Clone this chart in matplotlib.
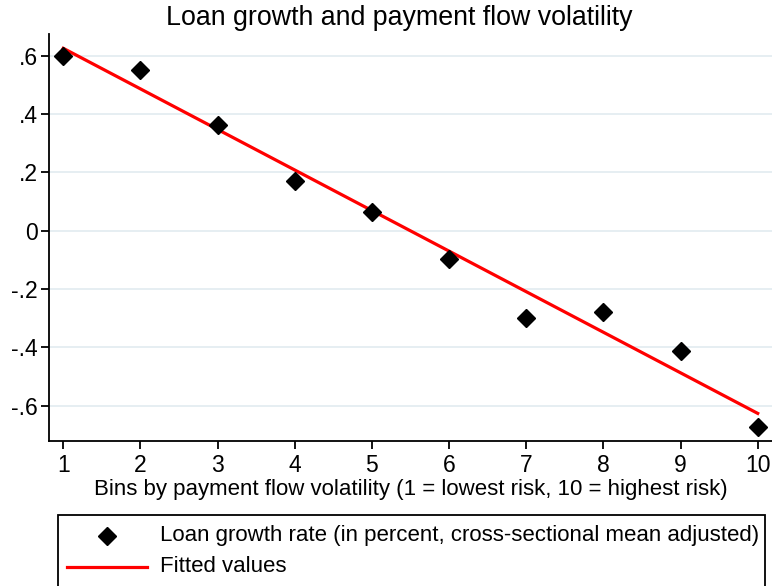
import numpy as np
import matplotlib
matplotlib.use("Agg")
import matplotlib.pyplot as plt
from matplotlib.patches import Rectangle
from matplotlib.lines import Line2D

plt.rcParams["font.family"] = ["Liberation Sans", "DejaVu Sans"]

# Binned scatter: loan growth by payment flow volatility decile
bins = np.arange(1, 11)
loan_growth = [0.60, 0.549, 0.363, 0.171, 0.065, -0.096, -0.298, -0.278, -0.411, -0.672]

yticks = [-0.6, -0.4, -0.2, 0.0, 0.2, 0.4, 0.6]
ytick_labels = ["-.6", "-.4", "-.2", "0", ".2", ".4", ".6"]

legend_labels = ["Loan growth rate (in percent, cross-sectional mean adjusted)", "Fitted values"]

# OLS fitted line (Stata lfit)
slope, intercept = np.polyfit(bins, loan_growth, 1)
fitted = slope * bins + intercept

W, H = 772, 586
fig = plt.figure(figsize=(W / 100, H / 100), dpi=100)
ax = fig.add_axes([49 / W, (H - 441) / H, (W - 49) / W, (441 - 34) / H])

grid_col = "#e4edf1"
for yv in yticks:
    ax.axhline(yv, color=grid_col, lw=1.3, zorder=0)

ax.plot(bins, fitted, color="#ff0000", lw=2.3, zorder=2)
ax.plot(bins, loan_growth, "D", color="black", ms=9, zorder=3)

ax.set_xlim(0.815, 10.185)
ax.set_ylim(-0.721, 0.674)
ax.set_xticks(bins)
ax.set_yticks(yticks)
ax.set_yticklabels(ytick_labels)
ax.tick_params(axis="both", direction="out", length=6, width=1.3, labelsize=16.5, color="black")
ax.tick_params(axis="x", pad=3)
ax.tick_params(axis="y", pad=2)
for s in ["top", "right"]:
    ax.spines[s].set_visible(False)
for s in ["left", "bottom"]:
    ax.spines[s].set_linewidth(1.3)

ax.set_xlabel("Bins by payment flow volatility (1 = lowest risk, 10 = highest risk)",
              fontsize=16, labelpad=2)

fig.text(399 / W, 1 - 18 / H, "Loan growth and payment flow volatility",
         ha="center", va="center", fontsize=19.3)

# Legend box (cut off at figure bottom like the original)
fig.patches.append(Rectangle((58 / W, -0.05), (765 - 58) / W, 0.05 + (H - 515) / H,
                             transform=fig.transFigure, fill=False, edgecolor="black", lw=1.3))
fig.lines.append(Line2D([107 / W], [1 - 536 / H], ls="none", marker="D", color="black", ms=9,
                        transform=fig.transFigure))
fig.lines.append(Line2D([67 / W, 147 / W], [1 - 567 / H, 1 - 567 / H], color="#ff0000", lw=2.3,
                        transform=fig.transFigure))
for lab, yp in zip(legend_labels, [536, 567]):
    fig.text(160 / W, 1 - yp / H, lab, ha="left", va="center", fontsize=16)

fig.savefig("out.png", dpi=100)
